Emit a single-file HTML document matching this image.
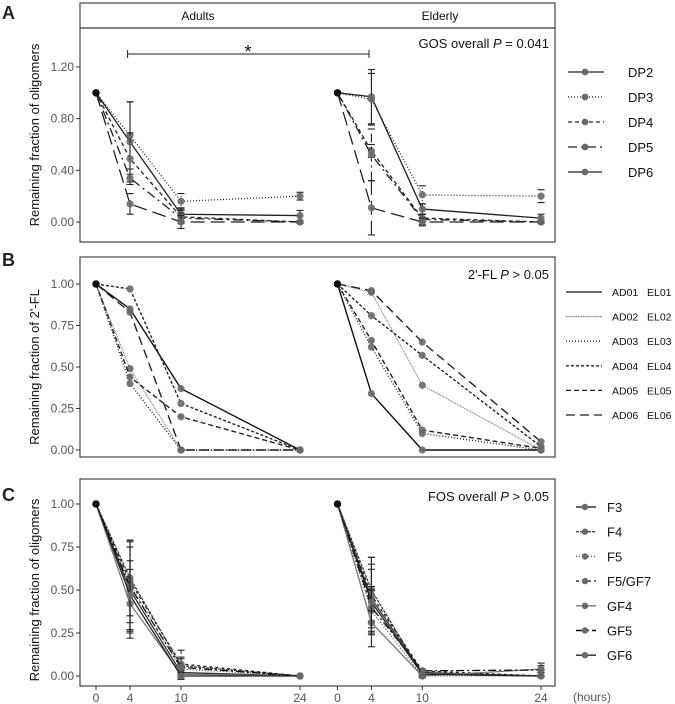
<!DOCTYPE html>
<html><head><meta charset="utf-8">
<style>
body{margin:0;background:#fff;}
svg{display:block;font-family:"Liberation Sans",Arial,sans-serif;}
</style></head>
<body>
<svg id="chart" width="675" height="704" viewBox="0 0 675 704" xmlns="http://www.w3.org/2000/svg">
  <g id="static">
    <text x="2" y="19" font-size="18" font-weight="bold" fill="#222">A</text>
    <text x="2" y="266" font-size="18" font-weight="bold" fill="#222">B</text>
    <text x="2" y="501" font-size="18" font-weight="bold" fill="#222">C</text>
    <rect x="80" y="3" width="475" height="25" fill="#fff" stroke="#333" stroke-width="1.1"/>
    <text x="198" y="20" font-size="12" text-anchor="middle" fill="#111">Adults</text>
    <text x="440" y="20" font-size="12" text-anchor="middle" fill="#111">Elderly</text>
    <rect x="80" y="28" width="475" height="214" fill="none" stroke="#333" stroke-width="1.1"/>
    <rect x="80" y="257" width="475" height="200" fill="none" stroke="#333" stroke-width="1.1"/>
    <rect x="80" y="479" width="475" height="207" fill="none" stroke="#333" stroke-width="1.1"/>
    <text transform="translate(39,135) rotate(-90)" font-size="13" text-anchor="middle" fill="#111">Remaining fraction of oligomers</text>
    <text transform="translate(39,367) rotate(-90)" font-size="13" text-anchor="middle" fill="#111">Remaining fraction of 2'-FL</text>
    <text transform="translate(39,590) rotate(-90)" font-size="13" text-anchor="middle" fill="#111">Remaining fraction of oligomers</text>
    <text x="549" y="48" font-size="13" text-anchor="end" fill="#111">GOS overall <tspan font-style="italic">P</tspan> = 0.041</text>
    <text x="549" y="279" font-size="13" text-anchor="end" fill="#111">2'-FL <tspan font-style="italic">P</tspan> &gt; 0.05</text>
    <text x="549" y="501" font-size="13" text-anchor="end" fill="#111">FOS overall <tspan font-style="italic">P</tspan> &gt; 0.05</text>
    <g>
      <line x1="127.6" y1="54" x2="369" y2="54" stroke="#222" stroke-width="1"/>
      <line x1="127.6" y1="50" x2="127.6" y2="58" stroke="#222" stroke-width="1"/>
      <line x1="369" y1="50" x2="369" y2="58" stroke="#222" stroke-width="1"/>
      <text x="248" y="58" font-size="18" text-anchor="middle" fill="#111">*</text>
    </g>
    <text x="573" y="701" font-size="12" fill="#555">(hours)</text>
  </g>
  <g id="dyn"></g>
</svg>
<script>
// ---- data ----
const hours = [0, 4, 10, 24];
const gosSeries = ['DP2', 'DP3', 'DP4', 'DP5', 'DP6'];
const gosAdults = [[1, 0.62, 0.06, 0.05], [1, 0.67, 0.16, 0.20], [1, 0.49, 0.04, 0.0], [1, 0.34, 0.03, 0.0], [1, 0.14, 0.0, 0.0]];
const gosAdultsErr = [[0, 0.31, 0.05, 0.04], [0, 0.26, 0.06, 0.03], [0, 0.20, 0.05, 0.01], [0, 0.03, 0.04, 0.01], [0, 0.08, 0.05, 0.01]];
const gosElderly = [[1, 0.97, 0.10, 0.03], [1, 0.95, 0.21, 0.20], [1, 0.55, 0.03, 0.0], [1, 0.52, 0.02, 0.0], [1, 0.11, 0.0, 0.0]];
const gosElderlyErr = [[0, 0.21, 0.04, 0.03], [0, 0.20, 0.07, 0.05], [0, 0.05, 0.03, 0.01], [0, 0.20, 0.04, 0.01], [0, 0.21, 0.03, 0.01]];
const gosTicks = [0, 0.4, 0.8, 1.2];
const gosTickLabels = ['0.00', '0.40', '0.80', '1.20'];

const flAdultNames = ['AD01', 'AD02', 'AD03', 'AD04', 'AD05', 'AD06'];
const flElderlyNames = ['EL01', 'EL02', 'EL03', 'EL04', 'EL05', 'EL06'];
const flAdults = [[1, 0.85, 0.37, 0.0], [1, 0.49, 0.0, 0.0], [1, 0.40, 0.0, 0.0], [1, 0.97, 0.28, 0.0], [1, 0.44, 0.20, 0.0], [1, 0.83, 0.0, 0.0]];
const flElderly = [[1, 0.34, 0.0, 0.0], [1, 0.95, 0.39, 0.0], [1, 0.62, 0.10, 0.0], [1, 0.81, 0.57, 0.02], [1, 0.66, 0.12, 0.01], [1, 0.96, 0.65, 0.05]];
const flTicks = [0, 0.25, 0.5, 0.75, 1.0];
const flTickLabels = ['0.00', '0.25', '0.50', '0.75', '1.00'];

const fosSeries = ['F3', 'F4', 'F5', 'F5/GF7', 'GF4', 'GF5', 'GF6'];
const fosAdults = [[1, 0.50, 0.02, 0], [1, 0.57, 0.06, 0], [1, 0.53, 0.04, 0], [1, 0.55, 0.07, 0], [1, 0.42, 0.01, 0], [1, 0.52, 0.05, 0], [1, 0.47, 0.0, 0]];
const fosAdultsErr = [[0, 0.25, 0.04, 0], [0, 0.22, 0.05, 0], [0, 0.26, 0.03, 0], [0, 0.24, 0.08, 0], [0, 0.20, 0.02, 0], [0, 0.26, 0.05, 0], [0, 0.20, 0.02, 0]];
const fosElderly = [[1, 0.45, 0.02, 0], [1, 0.50, 0.01, 0], [1, 0.38, 0.0, 0], [1, 0.47, 0.03, 0.0], [1, 0.31, 0.0, 0.04], [1, 0.40, 0.03, 0.035], [1, 0.43, 0.01, 0]];
const fosElderlyErr = [[0, 0.20, 0.01, 0], [0, 0.19, 0.01, 0], [0, 0.12, 0.01, 0], [0, 0.15, 0.01, 0], [0, 0.07, 0.01, 0.02], [0, 0.12, 0.01, 0.04], [0, 0.26, 0.01, 0]];
const fosTicks = [0, 0.25, 0.5, 0.75, 1.0];
const fosTickLabels = ['0.00', '0.25', '0.50', '0.75', '1.00'];
const xTickLabels = ['0', '4', '10', '24'];

// ---- scales ----
function xS(h, facet) { return facet === 0 ? 96 + 8.5 * h : 337.5 + 8.48 * h; }
function yA(v) { return 222 - v * 129.2; }
function yB(v) { return 450 - v * 166; }
function yC(v) { return 676 - v * 172; }

const NS = 'http://www.w3.org/2000/svg';
const root = document.getElementById('dyn');
function mk(tag, attrs, parent) {
  const e = document.createElementNS(NS, tag);
  for (const k in attrs) e.setAttribute(k, attrs[k]);
  (parent || root).appendChild(e);
  return e;
}

const gosDash = ['', '1,2', '4,3', '9,4,2,4', '14,6'];
const flDash = ['', '1,0.7', '1,2', '3,2', '5,3', '9,5'];
const flColor = ['#111', '#777', '#222', '#222', '#222', '#222'];
const fosDash = ['', '3,1', '1,2', '3,3', '', '8,3,2,3', ''];
const fosColor = ['#333', '#444', '#555', '#222', '#777', '#111', '#222'];

function yAxis(ticks, labels, ys, name) {
  const g = mk('g', {});
  
  
  ticks.forEach((t, i) => {
    mk('line', { x1: 76, x2: 80, y1: ys(t), y2: ys(t), stroke: '#333', 'stroke-width': 1 }, g);
    const tx = mk('text', { x: 74, y: ys(t) + 4, 'font-size': 12, 'text-anchor': 'end', fill: '#555' }, g);
    tx.textContent = labels[i];
  });
}
yAxis(gosTicks, gosTickLabels, yA, 'panel-a-y-axis');
yAxis(flTicks, flTickLabels, yB, 'panel-b-y-axis');
yAxis(fosTicks, fosTickLabels, yC, 'panel-c-y-axis');

const xg = mk('g', {});


[0, 1].forEach(f => {
  hours.forEach((h, i) => {
    mk('line', { x1: xS(h, f), x2: xS(h, f), y1: 686, y2: 690, stroke: '#333', 'stroke-width': 1 }, xg);
    const t = mk('text', { x: xS(h, f), y: 702, 'font-size': 12, 'text-anchor': 'middle', fill: '#555' }, xg);
    t.textContent = xTickLabels[i];
  });
});

function drawSeries(vals, errs, facet, ys, dash, color, name, sw) {
  const g = mk('g', {});
  
  
  const pts = vals.map((v, i) => xS(hours[i], facet) + ',' + ys(v)).join(' ');
  const attrs = { points: pts, fill: 'none', stroke: color, 'stroke-width': sw || 1.3 };
  if (dash) attrs['stroke-dasharray'] = dash;
  mk('polyline', attrs, g);
  if (errs) {
    vals.forEach((v, i) => {
      if (!errs[i]) return;
      const x = xS(hours[i], facet);
      const ea = { x1: x, x2: x, y1: ys(v - errs[i]), y2: ys(v + errs[i]), stroke: '#222', 'stroke-width': 1.1 };
      if (dash) ea['stroke-dasharray'] = dash;
      mk('line', ea, g);
      mk('line', { x1: x - 3.5, x2: x + 3.5, y1: ys(v - errs[i]), y2: ys(v - errs[i]), stroke: '#222', 'stroke-width': 1.1 }, g);
      mk('line', { x1: x - 3.5, x2: x + 3.5, y1: ys(v + errs[i]), y2: ys(v + errs[i]), stroke: '#222', 'stroke-width': 1.1 }, g);
    });
  }
  vals.forEach((v, i) => {
    mk('circle', { cx: xS(hours[i], facet), cy: ys(v), r: 3.6, fill: i === 0 ? '#111' : '#6a6a6a', 'fill-opacity': 0.9 }, g);
  });
}

gosSeries.forEach((s, k) => {
  drawSeries(gosAdults[k], gosAdultsErr[k], 0, yA, gosDash[k], '#222', 'gos-adults-' + s.toLowerCase());
  drawSeries(gosElderly[k], gosElderlyErr[k], 1, yA, gosDash[k], '#222', 'gos-elderly-' + s.toLowerCase());
});
flAdultNames.forEach((s, k) => {
  drawSeries(flAdults[k], null, 0, yB, flDash[k], flColor[k], 'fl-' + s.toLowerCase(), k === 1 ? 1 : 1.4);
  drawSeries(flElderly[k], null, 1, yB, flDash[k], flColor[k], 'fl-' + flElderlyNames[k].toLowerCase(), k === 1 ? 1 : 1.4);
});
fosSeries.forEach((s, k) => {
  const n = s.toLowerCase().replace('/', '-');
  drawSeries(fosAdults[k], fosAdultsErr[k], 0, yC, fosDash[k], fosColor[k], 'fos-adults-' + n);
  drawSeries(fosElderly[k], fosElderlyErr[k], 1, yC, fosDash[k], fosColor[k], 'fos-elderly-' + n);
});

gosSeries.forEach((s, k) => {
  const y = 72 + 25 * k;
  const g = mk('g', {});
  
  
  const a = { x1: 568, x2: 604, y1: y, y2: y, stroke: '#222', 'stroke-width': 1.3 };
  if (gosDash[k]) a['stroke-dasharray'] = gosDash[k];
  mk('line', a, g);
  mk('circle', { cx: 585, cy: y, r: 3.4, fill: '#6a6a6a' }, g);
  const t = mk('text', { x: 628, y: y + 5, 'font-size': 13, fill: '#111' }, g);
  t.textContent = s;
});
flAdultNames.forEach((s, k) => {
  const y = 292 + 24.6 * k;
  const g = mk('g', {});
  
  
  const a = { x1: 566, x2: 602, y1: y, y2: y, stroke: flColor[k], 'stroke-width': 1.3 };
  if (flDash[k]) a['stroke-dasharray'] = flDash[k];
  mk('line', a, g);
  const t = mk('text', { x: 612, y: y + 4, 'font-size': 10.5, fill: '#111' }, g);
  t.textContent = s;
  const t2 = mk('text', { x: 647, y: y + 4, 'font-size': 10.5, fill: '#111' }, g);
  t2.textContent = flElderlyNames[k];
});
fosSeries.forEach((s, k) => {
  const y = 507 + 24.7 * k;
  const g = mk('g', {});
  
  
  const a = { x1: 576, x2: 596, y1: y, y2: y, stroke: fosColor[k], 'stroke-width': 1.4 };
  if (fosDash[k]) a['stroke-dasharray'] = fosDash[k];
  mk('line', a, g);
  mk('circle', { cx: 585, cy: y, r: 3.2, fill: '#6a6a6a' }, g);
  const t = mk('text', { x: 607, y: y + 5, 'font-size': 13, fill: '#111' }, g);
  t.textContent = s;
});
</script>
</body></html>
